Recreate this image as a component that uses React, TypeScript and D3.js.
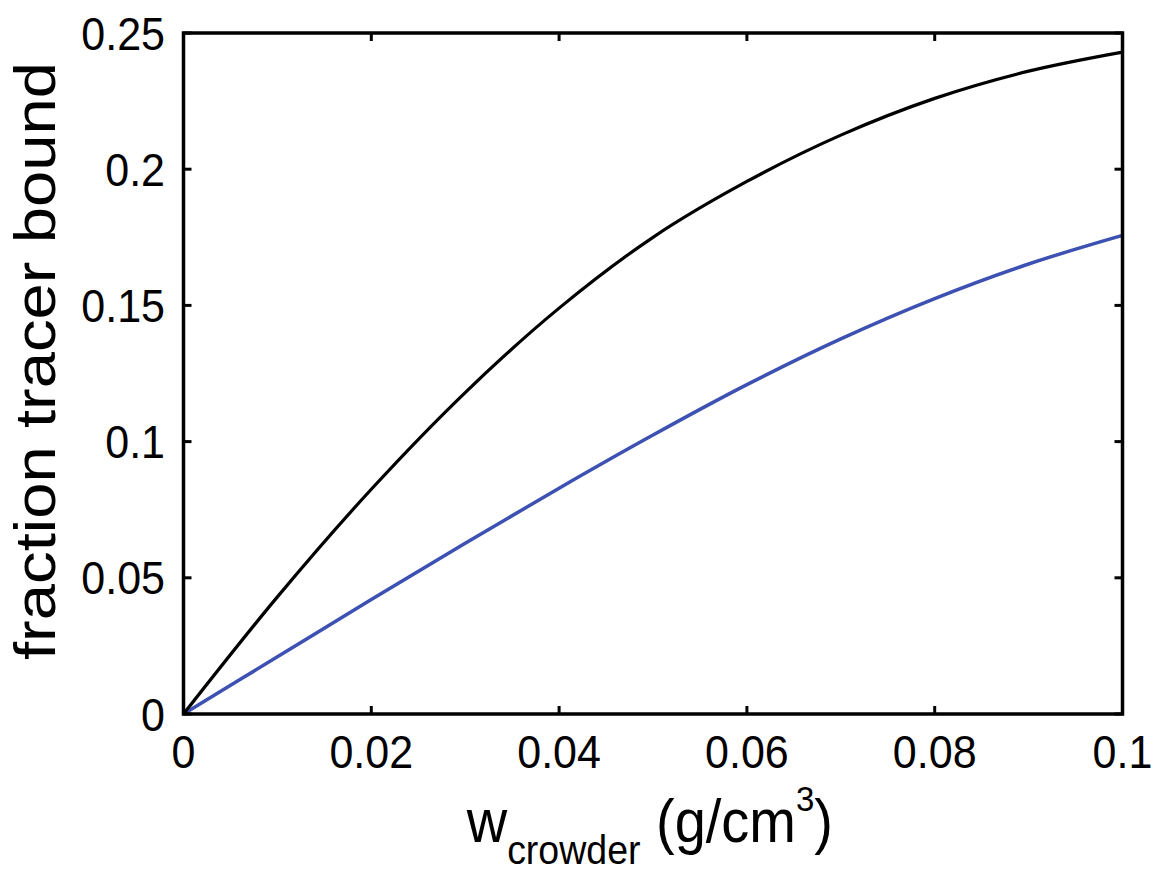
import React from 'react';
import * as d3 from 'd3';

// w_crowder (g/cm^3)
const wValues = [0, 0.01, 0.02, 0.03, 0.04, 0.05, 0.06, 0.07, 0.08, 0.09, 0.1];
// fraction tracer bound, black curve
const blackValues = [0, 0.043, 0.0825, 0.118, 0.149, 0.175, 0.1955, 0.2125, 0.226, 0.236, 0.243];
// fraction tracer bound, blue curve
const blueValues = [0, 0.021, 0.042, 0.0627, 0.0829, 0.1024, 0.1209, 0.1377, 0.1525, 0.1652, 0.1757];

const xTicks = [0, 0.02, 0.04, 0.06, 0.08, 0.1];
const xTickLabels = ['0', '0.02', '0.04', '0.06', '0.08', '0.1'];
const yTicks = [0, 0.05, 0.1, 0.15, 0.2, 0.25];
const yTickLabels = ['0', '0.05', '0.1', '0.15', '0.2', '0.25'];

const W = 1155;
const H = 872;
const left = 183.5, right = 1122.5, top = 33, bottom = 714;
const font = '"Liberation Sans", Arial, sans-serif';
const stretch = 1.08; // the picture's text is a bit taller than wide

export default function App() {
  const x = d3.scaleLinear().domain([0, 0.1]).range([left, right]);
  const y = d3.scaleLinear().domain([0, 0.25]).range([bottom, top]);

  const line = d3.line<number>()
    .x((d, i) => x(wValues[i]))
    .y(d => y(d))
    .curve(d3.curveCatmullRom.alpha(0.5));

  const tick = 8;

  return (
    <svg width={W} height={H} style={{ position: 'absolute', left: 0, top: 0, background: '#fff' }}
      fontFamily={font}>
      <rect x={0} y={0} width={W} height={H} fill="#fff" />

      <path d={line(blueValues) || ''} fill="none" stroke="#3d51b2" strokeWidth={3.5}
        strokeLinejoin="round" />
      <path d={line(blackValues) || ''} fill="none" stroke="#000" strokeWidth={3.2}
        strokeLinejoin="round" />

      {/* ticks, inward on all four sides */}
      {xTicks.map((t, i) => (
        <g key={'x' + i}>
          <line x1={x(t)} x2={x(t)} y1={bottom} y2={bottom - tick} stroke="#000" strokeWidth={3} />
          <line x1={x(t)} x2={x(t)} y1={top} y2={top + tick} stroke="#000" strokeWidth={3} />
          <text transform={`translate(${x(t)},768) scale(1,${stretch})`} textAnchor="middle"
            fontSize={43}>{xTickLabels[i]}</text>
        </g>
      ))}
      {yTicks.map((t, i) => (
        <g key={'y' + i}>
          <line x1={left} x2={left + tick} y1={y(t)} y2={y(t)} stroke="#000" strokeWidth={3} />
          <line x1={right} x2={right - tick} y1={y(t)} y2={y(t)} stroke="#000" strokeWidth={3} />
          <text transform={`translate(165,${y(t) + 16.6}) scale(1,${stretch})`} textAnchor="end"
            fontSize={43}>{yTickLabels[i]}</text>
        </g>
      ))}

      <rect x={left} y={top} width={right - left} height={bottom - top} fill="none"
        stroke="#000" strokeWidth={3.5} />

      {/* axis titles */}
      <text transform={`translate(466.7,841.7) scale(1,${stretch})`} fontSize={56}>
        <tspan>w</tspan>
        <tspan fontSize={37.5} dy={21}>crowder</tspan>
        <tspan fontSize={56} dy={-21}> (g/cm</tspan>
        <tspan fontSize={33} dy={-28}>3</tspan>
        <tspan fontSize={56} dy={28}>)</tspan>
      </text>
      <text transform="translate(55,361) rotate(-90)" textAnchor="middle" fontSize={57}
        textLength={598} lengthAdjust="spacingAndGlyphs">fraction tracer bound</text>
    </svg>
  );
}
